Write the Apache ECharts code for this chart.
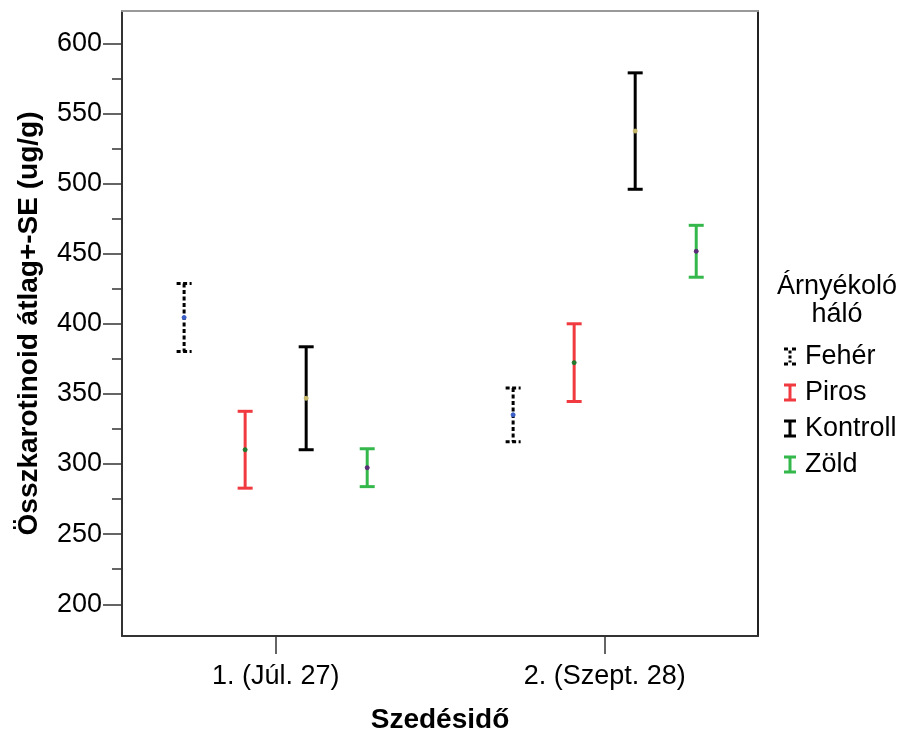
<!DOCTYPE html>
<html>
<head>
<meta charset="utf-8">
<script src="https://cdn.jsdelivr.net/npm/echarts@6/dist/echarts.min.js"></script>
<style>
  html, body { margin: 0; padding: 0; background: #fff; }
  #chart { width: 902px; height: 731px; }
</style>
</head>
<body>
<div id="chart"></div>
<script>
// Harvest dates (x categories)
const categories = ['1. (Júl. 27)', '2. (Szept. 28)'];
// Shade-net groups
const groups = ['Fehér', 'Piros', 'Kontroll', 'Zöld'];
// Mean total carotenoid (ug/g) per harvest date
const meanFeher = [404.5, 335.1];
const meanPiros = [310.2, 372.3];
const meanKontroll = [346.9, 537.4];
const meanZold = [297.4, 451.7];
// Standard error per harvest date
const seFeher = [24.2, 19.2];
const sePiros = [27.4, 27.7];
const seKontroll = [36.7, 41.5];
const seZold = [13.5, 18.5];
// Y axis tick labels
const yTicks = [200, 250, 300, 350, 400, 450, 500, 550, 600];
const yMinorTicks = [225, 275, 325, 375, 425, 475, 525, 575];

const means = [meanFeher, meanPiros, meanKontroll, meanZold];
const ses = [seFeher, sePiros, seKontroll, seZold];

const FONT = 'Liberation Sans, Arial, sans-serif';
const lineColors = ['#000000', '#f03a40', '#000000', '#35b84b'];
const dotColors = ['#3a5fc8', '#1f7a2e', '#c9b96a', '#5b2a78'];
const dashed = [true, false, false, false];
const clusterStep = 0.1855;

function makeRenderer(idx) {
  return function (params, api) {
    const x = api.value(0), m = api.value(1), se = api.value(2);
    const top = api.coord([x, m + se]);
    const bot = api.coord([x, m - se]);
    const mid = api.coord([x, m]);
    const hw = 7.5;
    const style = {
      stroke: lineColors[idx],
      lineWidth: 3,
      lineDash: dashed[idx] ? [4, 2.5] : null
    };
    return {
      type: 'group',
      children: [
        { type: 'line', shape: { x1: top[0], y1: top[1], x2: bot[0], y2: bot[1] }, style: style },
        { type: 'line', shape: { x1: top[0] - hw, y1: top[1], x2: top[0] + hw, y2: top[1] }, style: style },
        { type: 'line', shape: { x1: bot[0] - hw, y1: bot[1], x2: bot[0] + hw, y2: bot[1] }, style: style },
        { type: 'circle', shape: { cx: mid[0], cy: mid[1], r: 2 },
          style: { fill: dotColors[idx], stroke: dotColors[idx], lineWidth: 1 } }
      ]
    };
  };
}

// Legend glyphs: an "I" shaped error bar, plus a broken version for the dashed group
const iconSolid = 'path://M0,0H12V3H0Z M4.5,3H7.5V15H4.5Z M0,15H12V18H0Z';
const iconDashed = 'path://M0,0H4V3H0Z M8,0H12V3H8Z M4.5,3H7.5V6H4.5Z M4.5,8H7.5V11H4.5Z M4.5,13H7.5V15H4.5Z M0,15H4V18H0Z M8,15H12V18H8Z';

const series = groups.map((g, i) => ({
  name: g,
  type: 'custom',
  renderItem: makeRenderer(i),
  itemStyle: { color: lineColors[i] },
  encode: { x: 0, y: [1] },
  data: categories.map((c, j) => [j + 1 + (i - 1.5) * clusterStep, means[i][j], ses[i][j]]),
  z: 3
}));

const chart = echarts.init(document.getElementById('chart'), null, { renderer: 'canvas' });
chart.setOption({
  animation: false,
  backgroundColor: '#ffffff',
  textStyle: { fontFamily: FONT },
  title: {
    text: 'Árnyékoló\nháló',
    left: 832,
    top: 268,
    textAlign: 'center',
    textStyle: { fontFamily: FONT, fontSize: 27, fontWeight: 'normal', color: '#000', lineHeight: 28 }
  },
  legend: {
    orient: 'vertical',
    left: 779,
    top: 338,
    itemWidth: 12,
    itemHeight: 18,
    itemGap: 9,
    selectedMode: false,
    data: groups.map((g, i) => ({ name: g, icon: dashed[i] ? iconDashed : iconSolid })),
    textStyle: { fontFamily: FONT, fontSize: 27, color: '#000', lineHeight: 27, padding: [0, 0, 0, 4] }
  },
  grid: { left: 122, right: 144, top: 11, bottom: 95, outerBoundsMode: 'none', containLabel: false },
  xAxis: [
    {
      type: 'value',
      min: 0.533,
      max: 2.466,
      position: 'bottom',
      name: 'Szedésidő',
      nameLocation: 'middle',
      nameGap: 70,
      nameTextStyle: { fontFamily: FONT, fontSize: 28, fontWeight: 'bold', color: '#000' },
      axisLine: { show: true, lineStyle: { color: '#333', width: 2 } },
      axisTick: { show: true, length: 18, customValues: [1, 2], lineStyle: { color: '#333', width: 1.5 } },
      axisLabel: {
        customValues: [1, 2],
        margin: 27,
        fontFamily: FONT,
        fontSize: 27,
        color: '#000',
        formatter: v => categories[Math.round(v) - 1] || ''
      },
      splitLine: { show: false }
    },
    {
      type: 'value',
      min: 0.533,
      max: 2.466,
      position: 'top',
      axisLine: { show: true, lineStyle: { color: '#999', width: 2 } },
      axisTick: { show: false },
      axisLabel: { show: false },
      splitLine: { show: false }
    }
  ],
  yAxis: [
    {
      type: 'value',
      min: 177.4,
      max: 623,
      position: 'left',
      name: 'Összkarotinoid átlag+-SE (ug/g)',
      nameLocation: 'middle',
      nameGap: 79,
      nameTextStyle: { fontFamily: FONT, fontSize: 28, fontWeight: 'bold', color: '#000' },
      axisLine: { show: true, lineStyle: { color: '#333', width: 2 } },
      axisTick: { show: true, length: 19, customValues: yTicks, lineStyle: { color: '#333', width: 1.5 } },
      axisLabel: { customValues: yTicks, margin: 20, fontFamily: FONT, fontSize: 27, color: '#000' },
      splitLine: { show: false }
    },
    {
      type: 'value',
      min: 177.4,
      max: 623,
      position: 'left',
      axisLine: { show: false },
      axisTick: { show: true, length: 10, customValues: yMinorTicks, lineStyle: { color: '#333', width: 1.5 } },
      axisLabel: { show: false },
      splitLine: { show: false }
    },
    {
      type: 'value',
      min: 177.4,
      max: 623,
      position: 'right',
      axisLine: { show: true, onZero: false, lineStyle: { color: '#222', width: 2 } },
      axisTick: { show: false },
      axisLabel: { show: false },
      splitLine: { show: false }
    }
  ],
  series: series
});
</script>
</body>
</html>
